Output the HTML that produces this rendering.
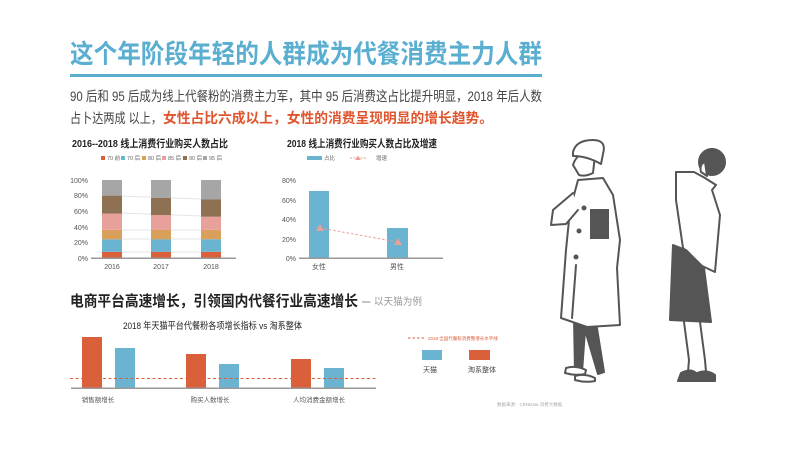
<!DOCTYPE html>
<html><head><meta charset="utf-8"><style>
html,body{margin:0;padding:0;background:#fff;}
body{width:800px;height:450px;overflow:hidden;position:relative;font-family:"Liberation Sans","Noto Sans CJK SC",sans-serif;}
</style></head><body>
<svg width="800" height="450" viewBox="0 0 800 450" xmlns="http://www.w3.org/2000/svg" style="position:absolute;left:0;top:0;font-family:'Liberation Sans','Noto Sans CJK SC',sans-serif">
<text x="70" y="63" font-size="26" font-weight="bold" fill="#5aaed0" textLength="472" lengthAdjust="spacingAndGlyphs">这个年阶段年轻的人群成为代餐消费主力人群</text>
<rect x="70" y="74" width="472" height="3" fill="#5aaed0"/>
<text x="70" y="101" font-size="13.5" fill="#444" textLength="472" lengthAdjust="spacingAndGlyphs">90 后和 95 后成为线上代餐粉的消费主力军，其中 95 后消费这占比提升明显，2018 年后人数</text>
<text x="70" y="123" font-size="13.5" fill="#444" textLength="92" lengthAdjust="spacingAndGlyphs">占卜达两成 以上，</text>
<text x="163" y="123" fill="#e0552e" font-weight="bold" font-size="14" textLength="330" lengthAdjust="spacingAndGlyphs">女性占比六成以上，女性的消费呈现明显的增长趋势。</text>

<!-- chart1 -->
<text x="72" y="147" font-size="10.5" font-weight="bold" fill="#222" textLength="156" lengthAdjust="spacingAndGlyphs">2016--2018 线上消费行业购买人数占比</text>
<g font-size="5.5" fill="#666">
<rect x="101" y="156" width="4" height="4" fill="#d9603b"/><text x="107" y="160">70 前</text>
<rect x="121" y="156" width="4" height="4" fill="#6ab3d1"/><text x="127" y="160">70 后</text>
<rect x="142" y="156" width="4" height="4" fill="#d9a05b"/><text x="148" y="160">80 后</text>
<rect x="162" y="156" width="4" height="4" fill="#e8a09a"/><text x="168" y="160">85 后</text>
<rect x="183" y="156" width="4" height="4" fill="#8e7152"/><text x="189" y="160">90 后</text>
<rect x="203" y="156" width="4" height="4" fill="#a6a6a6"/><text x="209" y="160">95 后</text>
</g>
<g font-size="7" fill="#555" text-anchor="end">
<text x="88" y="183">100%</text><text x="88" y="198">80%</text><text x="88" y="214">60%</text><text x="88" y="230">40%</text><text x="88" y="245">20%</text><text x="88" y="261">0%</text>
</g>
<g stroke="#e4e4e4" stroke-width="1">
<line x1="122" y1="196" x2="201" y2="199"/><line x1="122" y1="213" x2="201" y2="216"/><line x1="122" y1="230" x2="201" y2="230"/><line x1="122" y1="239" x2="201" y2="239"/><line x1="122" y1="252" x2="201" y2="252"/>
</g>
<rect x="102" y="251.8" width="20" height="6.2" fill="#d9603b"/>
<rect x="102" y="239.3" width="20" height="12.5" fill="#6ab3d1"/>
<rect x="102" y="229.9" width="20" height="9.4" fill="#d9a05b"/>
<rect x="102" y="213.5" width="20" height="16.4" fill="#e8a09a"/>
<rect x="102" y="195.6" width="20" height="17.9" fill="#8e7152"/>
<rect x="102" y="180" width="20" height="15.6" fill="#a6a6a6"/>
<rect x="151" y="251.8" width="20" height="6.2" fill="#d9603b"/>
<rect x="151" y="239.3" width="20" height="12.5" fill="#6ab3d1"/>
<rect x="151" y="229.9" width="20" height="9.4" fill="#d9a05b"/>
<rect x="151" y="215.1" width="20" height="14.8" fill="#e8a09a"/>
<rect x="151" y="197.9" width="20" height="17.2" fill="#8e7152"/>
<rect x="151" y="180" width="20" height="17.9" fill="#a6a6a6"/>
<rect x="201" y="251.8" width="20" height="6.2" fill="#d9603b"/>
<rect x="201" y="239.3" width="20" height="12.5" fill="#6ab3d1"/>
<rect x="201" y="229.9" width="20" height="9.4" fill="#d9a05b"/>
<rect x="201" y="216.7" width="20" height="13.2" fill="#e8a09a"/>
<rect x="201" y="199.5" width="20" height="17.2" fill="#8e7152"/>
<rect x="201" y="180" width="20" height="19.5" fill="#a6a6a6"/>
<rect x="91" y="257.5" width="145" height="1.5" fill="#999"/>
<g font-size="7" fill="#555" text-anchor="middle"><text x="112" y="269">2016</text><text x="161" y="269">2017</text><text x="211" y="269">2018</text></g>

<!-- chart2 -->
<text x="287" y="147" font-size="10.5" font-weight="bold" fill="#222" textLength="150" lengthAdjust="spacingAndGlyphs">2018 线上消费行业购买人数占比及增速</text>
<rect x="307" y="156" width="15" height="4" fill="#6ab3d1"/><text x="324" y="160" font-size="5.5" fill="#666">占比</text>
<line x1="350" y1="158" x2="367" y2="158" stroke="#e8a09a" stroke-dasharray="2,1.5"/><polygon points="358,155.5 361,160 355,160" fill="#e8a09a"/><text x="376" y="160" font-size="5.5" fill="#666">增速</text>
<g font-size="7" fill="#555" text-anchor="end"><text x="296" y="183">80%</text><text x="296" y="203">60%</text><text x="296" y="222">40%</text><text x="296" y="242">20%</text><text x="296" y="261">0%</text></g>
<rect x="309" y="191" width="20" height="67" fill="#6ab3d1"/>
<rect x="387" y="228" width="21" height="30" fill="#6ab3d1"/>
<line x1="320" y1="228" x2="398" y2="242" stroke="#e8a09a" stroke-dasharray="2.5,2"/>
<polygon points="320,224 324,231 316,231" fill="#e8a09a"/><polygon points="398,238 402,245 394,245" fill="#e8a09a"/>
<rect x="299" y="257.5" width="144" height="1.5" fill="#999"/>
<g font-size="7" fill="#555" text-anchor="middle"><text x="319" y="269">女性</text><text x="397" y="269">男性</text></g>

<!-- section 2 -->
<text x="70" y="306" font-size="15" font-weight="bold" fill="#222" textLength="288" lengthAdjust="spacingAndGlyphs">电商平台高速增长，引领国内代餐行业高速增长</text>
<text x="362" y="306" font-size="15" fill="#888">–</text>
<text x="374" y="305" font-size="10" fill="#999" textLength="48" lengthAdjust="spacingAndGlyphs">以天猫为例</text>
<text x="123" y="329" font-size="9.5" fill="#222" textLength="179" lengthAdjust="spacingAndGlyphs">2018 年天猫平台代餐粉各项增长指标 vs 淘系整体</text>
<rect x="82" y="337" width="20" height="51" fill="#d9603b"/>
<rect x="115" y="348" width="20" height="40" fill="#6ab3d1"/>
<rect x="186" y="354" width="20" height="34" fill="#d9603b"/>
<rect x="219" y="364" width="20" height="24" fill="#6ab3d1"/>
<rect x="291" y="359" width="20" height="29" fill="#d9603b"/>
<rect x="324" y="368" width="20" height="20" fill="#6ab3d1"/>
<line x1="70" y1="378.5" x2="376" y2="378.5" stroke="#d9603b" stroke-width="1" stroke-dasharray="3,2.5"/>
<rect x="71" y="387.5" width="305" height="1.5" fill="#999"/>
<g font-size="6.5" fill="#555" text-anchor="middle"><text x="98" y="402">销售额增长</text><text x="210" y="402">购买人数增长</text><text x="319" y="402">人均消费金额增长</text></g>
<line x1="408" y1="338" x2="424" y2="338" stroke="#d9603b" stroke-dasharray="2.5,2"/>
<text x="428" y="340" font-size="4.5" fill="#d9603b">2018 全国代餐粉消费整增长水平线</text>
<rect x="422" y="350" width="20" height="10" fill="#6ab3d1"/>
<rect x="469" y="350" width="21" height="10" fill="#d9603b"/>
<g font-size="7" fill="#444"><text x="423" y="372">天猫</text><text x="468" y="372">淘系整体</text></g>
<text x="497" y="406" font-size="4.5" fill="#aaa">数据来源：CBNData 消费大数据</text>

<!-- illustration -->
<g stroke="#555" stroke-width="2" fill="#fff" stroke-linejoin="round" stroke-linecap="round">
<polygon points="574,318 596,322 604,372 598,374 585,330 582,372 575,372" fill="#555"/>
<path d="M566,368 q10,-3 20,2 l-1,4 q-10,2 -20,-1 z M575,376 q10,-3 20,2 l0,3 q-10,2 -20,-1 z" fill="#fff"/>
<path d="M578,180 L603,178 L613,195 L620,240 L617,268 L620,325 L587,327 L561,318 L566,250 L570,210 Z"/>
<path d="M576,265 L572,318" />
<rect x="590" y="209" width="19" height="30" fill="#555" stroke="none"/>
<path d="M573,193 L553,210 L551,225 L566,224 L578,210"/>
<path d="M573,165 q5,-16 22,-10 l-2,18 q-8,4 -14,2 z"/>
<path d="M573,152 q3,-12 20,-12 q14,0 10,14 l-2,10 q-14,-8 -28,-8 z"/>
<circle cx="584" cy="208" r="1.5" fill="#555"/><circle cx="579" cy="231" r="1.5" fill="#555"/><circle cx="576" cy="257" r="1.5" fill="#555"/>
<circle cx="712" cy="162" r="13" fill="#555"/>
<path d="M705,162 q-6,2 -4,10 l6,4 z" fill="#fff"/>
<path d="M676,172 L694,172 L705,178 L716,185 L712,190 L720,215 L715,272 L700,265 L683,248 L676,200 Z"/>
<polygon points="673,245 686,250 704,268 711,322 670,320" fill="#555"/>
<path d="M684,322 L689,360 L688,372 M700,322 L705,360 L706,372" fill="none"/>
<path d="M681,373 q10,-5 15,0 l0,8 l-18,0 z M697,373 q10,-4 18,2 l0,6 l-18,0 z" fill="#555"/>
</g>
</svg>
</body></html>
